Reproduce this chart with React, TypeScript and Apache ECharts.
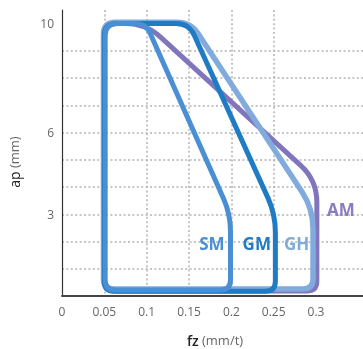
import React, { useEffect, useRef } from "react";
import * as echarts from "echarts";

// Tick values
const xTickLabels = [0, 0.05, 0.1, 0.15, 0.2, 0.25, 0.3];
const xGridValues = [0.05, 0.1, 0.15, 0.2, 0.25, 0.3];
const yTickLabels = [3, 6, 10];
const yGridValues = [1, 2, 3, 4, 5, 6, 7, 8, 9, 10];

// Shape outlines (fz, ap) — closed loops
const amFz = [0.05, 0.099, 0.301, 0.301, 0.05];
const amAp = [10.0, 10.0, 4.25, 0.18, 0.18];

const ghFz = [0.049, 0.152, 0.2965, 0.2965, 0.049];
const ghAp = [10.05, 10.05, 3.2, 0.26, 0.26];

const gmFz = [0.05, 0.15, 0.252, 0.252, 0.05];
const gmAp = [10.0, 10.0, 3.0, 0.17, 0.17];

const smFz = [0.051, 0.099, 0.199, 0.199, 0.051];
const smAp = [10.0, 10.0, 3.0, 0.22, 0.22];

const names = ["AM", "GH", "GM", "SM"];

function roundedPath(pts: number[][], radii: number[]) {
  const n = pts.length;
  let d = "";
  for (let i = 0; i < n; i++) {
    const P = pts[i];
    const A = pts[(i - 1 + n) % n];
    const B = pts[(i + 1) % n];
    const ax = A[0] - P[0], ay = A[1] - P[1];
    const bx = B[0] - P[0], by = B[1] - P[1];
    const la = Math.hypot(ax, ay) || 1;
    const lb = Math.hypot(bx, by) || 1;
    const r = Math.min(radii[i], la / 2, lb / 2);
    const p1 = [P[0] + (ax / la) * r, P[1] + (ay / la) * r];
    const p2 = [P[0] + (bx / lb) * r, P[1] + (by / lb) * r];
    d += (i === 0 ? "M" : "L") + p1[0] + " " + p1[1] + " ";
    d += "Q" + P[0] + " " + P[1] + " " + p2[0] + " " + p2[1] + " ";
  }
  return d + "Z";
}

const FONT = "'Open Sans', 'Noto Sans', sans-serif";

function shapeSeries(
  name: string,
  xs: number[],
  ys: number[],
  color: string,
  radii: number[],
  lineWidth: number,
  labelAt: number[],
  labelColor: string
) {
  return {
    type: "custom",
    name,
    coordinateSystem: "cartesian2d",
    data: xs.map((x, i) => [x, ys[i]]),
    encode: { x: 0, y: 1 },
    silent: true,
    renderItem: (params: any, api: any) => {
      if (params.dataIndex !== 0) return null;
      const pts = xs.map((x, i) => api.coord([x, ys[i]]));
      const lp = api.coord(labelAt);
      return {
        type: "group",
        children: [
          {
            type: "path",
            shape: { pathData: roundedPath(pts, radii) },
            style: {
              fill: "none",
              stroke: color,
              lineWidth,
              lineJoin: "round",
            },
          },
          {
            type: "text",
            x: lp[0],
            y: lp[1],
            style: {
              text: name,
              fill: labelColor,
              fontSize: 17,
              fontWeight: "bold",
              fontFamily: FONT,
              align: "center",
              verticalAlign: "middle",
              textAlign: "center",
              textVerticalAlign: "middle",
            },
          },
        ],
      };
    },
  };
}

export default function App() {
  const ref = useRef<HTMLDivElement>(null);
  useEffect(() => {
    if (!ref.current) return;
    const chart = echarts.init(ref.current, null, { renderer: "svg" });
    const splitStyle = {
      show: true,
      showMaxLine: false,
      lineStyle: { color: "#b3b3b3", width: 1.5, type: [2, 2.4] },
    };
    chart.setOption({
      animation: false,
      grid: { left: 62, right: 0, top: 10, bottom: 53 },
      xAxis: {
        type: "value",
        min: 0,
        max: 0.3555,
        axisLine: { show: true, lineStyle: { color: "#444", width: 1.8 } },
        axisTick: { show: false, customValues: xGridValues },
        axisLabel: {
          customValues: xTickLabels,
          color: "#666",
          fontSize: 12,
          fontFamily: FONT,
          margin: 9,
          formatter: (v: number) => String(v),
        },
        splitLine: splitStyle,
      },
      yAxis: {
        type: "value",
        min: 0,
        max: 10.5,
        axisLine: { show: true, lineStyle: { color: "#333", width: 1.2 } },
        axisTick: { show: false, customValues: yGridValues },
        axisLabel: {
          customValues: yTickLabels,
          color: "#666",
          fontSize: 12,
          fontFamily: FONT,
          margin: 8,
        },
        splitLine: splitStyle,
      },
      graphic: [
        {
          type: "text",
          x: 14,
          y: 162,
          rotation: Math.PI / 2,
          style: {
            text: "{a|ap} {b|(mm)}",
            align: "center",
            verticalAlign: "middle",
            textAlign: "center",
            textVerticalAlign: "middle",
            rich: {
              a: { fontSize: 14, fill: "#222", color: "#222", fontFamily: FONT },
              b: { fontSize: 13, fill: "#666", color: "#666", fontFamily: FONT },
            },
          },
        },
        {
          type: "text",
          x: 215,
          y: 340,
          style: {
            text: "{a|fz} {b|(mm/t)}",
            align: "center",
            verticalAlign: "middle",
            textAlign: "center",
            textVerticalAlign: "middle",
            rich: {
              a: { fontSize: 14, fill: "#222", color: "#222", fontFamily: FONT, fontWeight: 600 },
              b: { fontSize: 13, fill: "#666", color: "#666", fontFamily: FONT },
            },
          },
        },
      ],
      series: [
        shapeSeries(names[0], amFz, amAp, "#8175bb", [12, 24, 22, 10, 10], 5, [0.3295, 3.17], "#8a7cc0"),
        shapeSeries(names[1], ghFz, ghAp, "#80abdc", [12, 14, 20, 10, 10], 5.5, [0.277, 1.92], "#80abdc"),
        shapeSeries(names[2], gmFz, gmAp, "#1f7bc4", [12, 13, 18, 10, 10], 5, [0.23, 1.92], "#1f7bc4"),
        shapeSeries(names[3], smFz, smAp, "#4a8fd3", [12, 10, 17, 10, 10], 5, [0.177, 1.92], "#4a8fd3"),
      ],
    });
    return () => chart.dispose();
  }, []);
  return (
    <div
      ref={ref}
      style={{ position: "fixed", left: 0, top: 0, width: 363, height: 349 }}
    />
  );
}
